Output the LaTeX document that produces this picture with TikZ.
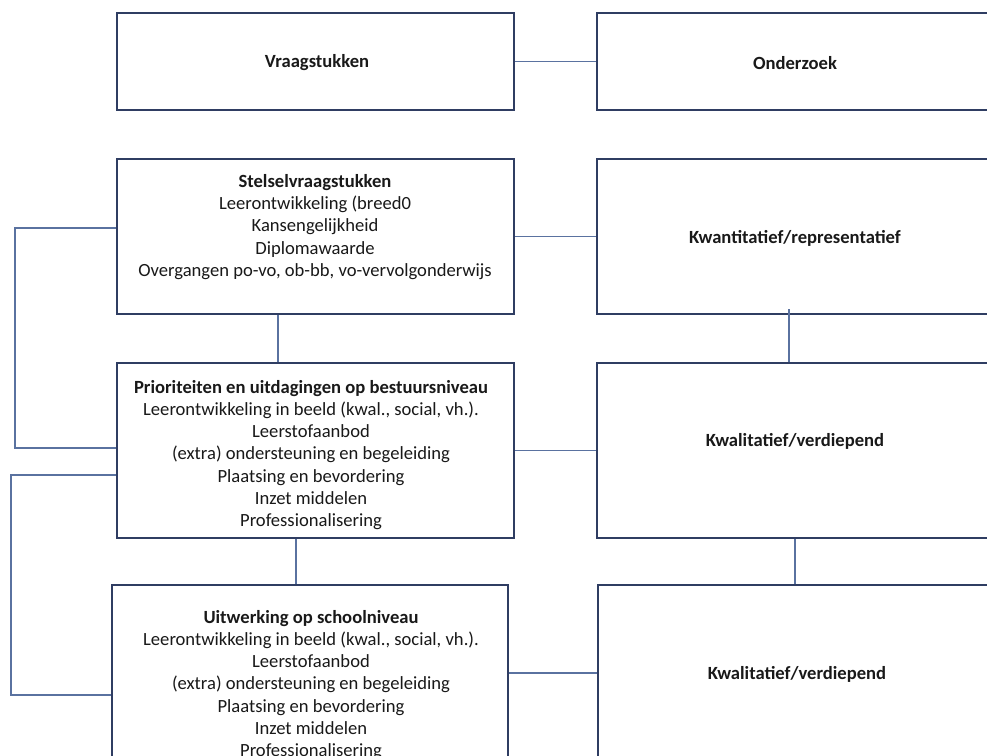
\documentclass[tikz,border=0pt]{standalone}
\usepackage{fontspec}
\setmainfont{Carlito}
\definecolor{boxc}{HTML}{2F3D62}
\definecolor{linec}{HTML}{5A72A0}
\begin{document}
\begin{tikzpicture}[x=1pt,y=-1pt,
  box/.style={draw=boxc,line width=2.8pt,rectangle,inner sep=0pt},
  txt/.style={align=center,text=black!90,font=\fontsize{18.6}{22.3}\selectfont,inner sep=0pt},
  conn/.style={draw=linec,line width=1.3pt}]
\useasboundingbox (0,0) rectangle (987,755);
\fill[white] (0,0) rectangle (987,755);
% boxes
\node[box,minimum width=397pt,minimum height=97pt] (B1) at (315.5,61.5) {};
\node[box,minimum width=396pt,minimum height=97pt] (B2) at (795,61.5) {};
\node[box,minimum width=397pt,minimum height=155pt] (B3) at (315.5,236.5) {};
\node[box,minimum width=396pt,minimum height=155pt] (B4) at (795,236.5) {};
\node[box,minimum width=397pt,minimum height=175pt] (B5) at (315.5,450.5) {};
\node[box,minimum width=396pt,minimum height=175pt] (B6) at (795,450.5) {};
\node[box,minimum width=396pt,minimum height=198pt] (B7) at (310,684) {};
\node[box,minimum width=396pt,minimum height=198pt] (B8) at (796,684) {};
% texts
\node[txt] (T1) at (317,63) {\textbf{Vraagstukken}};
\node[txt] (T2) at (795,63) {\textbf{Onderzoek}};
\node[txt] (T3) at (315,227) {\textbf{Stelselvraagstukken}\\Leerontwikkeling (breed0\\Kansengelijkheid\\Diplomawaarde\\Overgangen po-vo, ob-bb, vo-vervolgonderwijs};
\node[txt] (T4) at (795,238) {\textbf{Kwantitatief/representatief}};
\node[txt] (T5) at (311,455) {\textbf{Prioriteiten en uitdagingen op bestuursniveau}\\Leerontwikkeling in beeld (kwal., social, vh.).\\Leerstofaanbod\\(extra) ondersteuning en begeleiding\\Plaatsing en bevordering\\Inzet middelen\\Professionalisering};
\node[txt] (T6) at (795,441) {\textbf{Kwalitatief/verdiepend}};
\node[txt] (T7) at (311,685) {\textbf{Uitwerking op schoolniveau}\\Leerontwikkeling in beeld (kwal., social, vh.).\\Leerstofaanbod\\(extra) ondersteuning en begeleiding\\Plaatsing en bevordering\\Inzet middelen\\Professionalisering};
\node[txt] (T8) at (797,674) {\textbf{Kwalitatief/verdiepend}};
% helper coordinates
\coordinate (h4) at (0,673);
\coordinate (v1) at (278,0);
\coordinate (v2) at (789,0);
\coordinate (v3) at (296,0);
\coordinate (v4) at (795,0);
\coordinate (k1) at (15,228);
\coordinate (k2) at (15,448);
\coordinate (k3) at (11,475);
\coordinate (k4) at (11,695);
% connectors
\draw[conn] (B1.east) -- (B2.west);
\draw[conn] (B3.east) -- (B4.west);
\draw[conn] (B5.east) -- (B6.west);
\draw[conn] (B7.east |- h4) -- (B8.west |- h4);
\draw[conn] (B3.south -| v1) -- (B5.north -| v1);
\draw[conn] ([yshift=6pt]B4.south -| v2) -- (B6.north -| v2);
\draw[conn] (B5.south -| v3) -- (B7.north -| v3);
\draw[conn] (B6.south -| v4) -- (B8.north -| v4);
\draw[conn] (B3.west |- k1) -- (k1) -- (k2) -- (B5.west |- k2);
\draw[conn] (B5.west |- k3) -- (k3) -- (k4) -- (B7.west |- k4);
\end{tikzpicture}
\end{document}
